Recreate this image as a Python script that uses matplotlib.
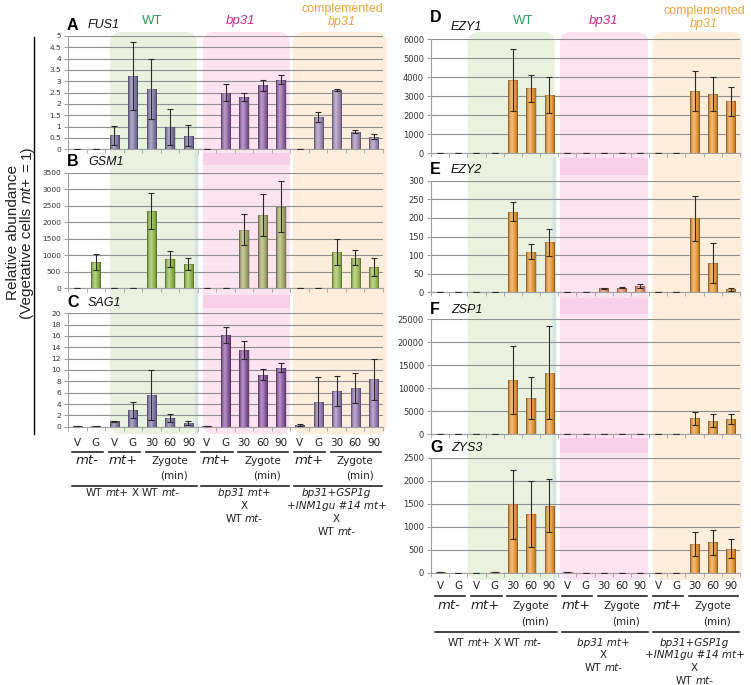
"""Relative abundance of gamete / zygote transcripts in WT, bp31 and complemented bp31."""
import numpy as np
import matplotlib
matplotlib.use('Agg')
import matplotlib.pyplot as plt
import matplotlib.colors as mcolors
from matplotlib.patches import FancyBboxPatch, Rectangle
from matplotlib.ticker import FuncFormatter

# data (17 samples per panel)
tick_labels = ['V', 'G', 'V', 'G', '30', '60', '90',
               'V', 'G', '30', '60', '90',
               'V', 'G', '30', '60', '90']

fus1 = [0, 0, 0.63, 3.25, 2.65, 1.0, 0.6, 0.03, 2.5, 2.29, 2.82, 3.06, 0.03, 1.44, 2.62, 0.78, 0.56]
fus1_err = [0, 0, 0.42, 1.5, 1.33, 0.8, 0.47, 0, 0.36, 0.18, 0.25, 0.2, 0, 0.22, 0.04, 0.05, 0.1]

gsm1 = [20, 790, 1, 5, 2340, 890, 730, 8, 0, 1770, 2230, 2470, 0, 0, 1090, 930, 640]
gsm1_err = [0, 250, 0, 0, 550, 240, 180, 0, 0, 470, 640, 780, 0, 0, 390, 230, 270]

sag1 = [0.1, 0.15, 0.95, 2.9, 5.6, 1.5, 0.7, 0.1, 16.2, 13.6, 9.2, 10.4, 0.3, 4.3, 6.3, 6.8, 8.35]
sag1_err = [0, 0, 0.1, 1.4, 4.4, 0.7, 0.35, 0, 1.4, 1.6, 1.0, 0.8, 0.1, 4.5, 2.6, 2.7, 3.65]

ezy1 = [5, 15, 5, 15, 3860, 3420, 3070, 10, 20, 15, 15, 10, 5, 10, 3300, 3100, 2740]
ezy1_err = [0, 0, 0, 0, 1650, 720, 950, 0, 0, 0, 0, 0, 0, 0, 1050, 900, 770]

ezy2 = [0.5, 0.5, 1, 1, 217, 109, 134, 0.5, 2, 10.7, 12.5, 17, 0.5, 0.5, 199, 78, 8]
ezy2_err = [0, 0, 0, 0, 25, 20, 37, 0, 0, 1.5, 2, 4.5, 0, 0, 61, 54, 4]

zsp1 = [100, 20, 20, 100, 11800, 7800, 13400, 30, 20, 20, 50, 20, 0, 0, 3400, 2900, 3200]
zsp1_err = [0, 0, 0, 0, 7400, 4600, 10200, 0, 0, 0, 0, 0, 0, 0, 1500, 1400, 1100]

zys3 = [5, 0, 0, 5, 1490, 1280, 1460, 5, 0, 0, 0, 0, 0, 0, 620, 660, 520]
zys3_err = [0, 0, 0, 0, 750, 720, 570, 0, 0, 0, 0, 0, 0, 0, 260, 270, 210]

# group colours: (WT, bp31, complemented)
purple_A = ['#7f76a6', '#9060a6', '#9c88b2']
green_B = ['#8cb845', '#a6aa6a', '#9cbd52']
purple_C = ['#7d73a5', '#8a52a0', '#9378b0']
orange = ['#ea952f', '#e98b63', '#ea952f']

W, H = 751, 685
fig = plt.figure(figsize=(W / 100, H / 100), dpi=100)
renderer = fig.canvas.get_renderer()


def fx(x):
    return x / W


def fy(y):
    return 1 - y / H


def add_ax(l, t, r, b):
    return fig.add_axes([fx(l), fy(b), (r - l) / W, (b - t) / H])


# background layer in pixel coordinates
bg = fig.add_axes([0, 0, 1, 1], zorder=0)
bg.set_xlim(0, W)
bg.set_ylim(H, 0)
bg.axis('off')

cols = {'left': (68, 383), 'right': (431, 740)}


def ux(col, u):
    """category boundary units -> pixel x"""
    l, r = cols[col]
    return l + u * (r - l) / 17


def shade(col, u0, u1, y0, y1, color):
    x0, x1 = ux(col, u0), ux(col, u1)
    bg.add_patch(FancyBboxPatch((x0, y0), x1 - x0, y1 - y0,
                                boxstyle='round,pad=0,rounding_size=11',
                                fc=color, ec='none'))


green_bg, pink_bg, orange_bg = '#eaf1de', '#fbe3f0', '#fdeedb'
pink_strip = '#f7d0e7'

shade('left', 2.27, 6.96, 32, 434, green_bg)
shade('left', 7.27, 11.98, 32, 434, pink_bg)
shade('left', 12.14, 17.2, 32, 434, orange_bg)
shade('right', 2.02, 6.8, 32, 580, green_bg)
shade('right', 7.1, 11.95, 32, 580, pink_bg)
shade('right', 12.2, 17.1, 32, 580, orange_bg)

for col, u0, u1, strips in [('left', 7.27, 11.98, [(153, 165), (295, 308)]),
                            ('right', 7.1, 11.95, [(158, 175), (298, 314), (438, 453)])]:
    for y0, y1 in strips:
        bg.add_patch(Rectangle((ux(col, u0), y0), ux(col, u1) - ux(col, u0), y1 - y0,
                               fc=pink_strip, ec='none'))
bg.plot([ux('left', 6.96) - 1] * 2, [152, 432], color='#d3e6e1', lw=2.5)
bg.plot([ux('right', 6.8) - 1] * 2, [158, 578], color='#d3e6e1', lw=2.5)


def rich(x, y, words, size=7.5, family='DejaVu Sans', rot=0, color='#222222'):
    """draw a line of words (text, italic) centred at pixel (x, y)"""
    objs = []
    for s, it in words:
        t = fig.text(0, 0, s, fontsize=size, family=family,
                     style='italic' if it else 'normal', color=color,
                     rotation=rot, rotation_mode='anchor', ha='left', va='center')
        objs.append(t)
    sp = size * 100 / 72 * 0.3
    widths = []
    for t in objs:
        bb = t.get_window_extent(renderer)
        widths.append(bb.height if rot else bb.width)
    total = sum(widths) + sp * (len(objs) - 1)
    pos = -total / 2
    for t, w in zip(objs, widths):
        if rot:
            t.set_position((fx(x), fy(y - pos)))
        else:
            t.set_position((fx(x + pos), fy(y)))
        pos += w + sp


def gradient_bars(ax, vals, errs, colors):
    x = np.arange(len(vals))
    cs = [colors[0]] * 7 + [colors[1]] * 5 + [colors[2]] * 5
    bars = ax.bar(x, vals, width=0.5, color=cs, zorder=2)
    t = np.linspace(-1, 1, 40)
    light = 0.4 * np.clip(1 - np.abs(t + 0.25) / 0.9, 0, 1) ** 1.3
    dark = 0.3 * np.abs(t) ** 2.5
    for b, c in zip(bars, cs):
        rgb = np.array(mcolors.to_rgb(c))
        img = rgb[None, :] * (1 - light - dark)[:, None] + light[:, None]
        img = np.clip(img, 0, 1)[None, :, :]
        im = ax.imshow(img, extent=(b.get_x(), b.get_x() + b.get_width(), 0, b.get_height()),
                       aspect='auto', zorder=2.1, interpolation='bilinear')
        im.set_clip_path(b)
    ax.bar(x, vals, width=0.5, fill=False, edgecolor='#00000033', lw=0.5, zorder=2.2)
    ax.errorbar(x, vals, yerr=errs, fmt='none', ecolor='#2a2a2a', elinewidth=0.8,
                capsize=2.2, capthick=0.8, zorder=3)


def setup(ax, ymax, ystep, labsize, show_ticks=False, pad=7):
    ax.set_facecolor('none')
    ax.set_xlim(-0.5, 16.5)
    ax.set_ylim(0, ymax)
    ax.set_yticks(np.arange(0, ymax + ystep / 2, ystep))
    ax.yaxis.set_major_formatter(FuncFormatter(lambda v, p: f'{v:g}'))
    ax.yaxis.grid(True, color='#8f8f8f', lw=0.8)
    ax.set_axisbelow(True)
    for s in ['top', 'right']:
        ax.spines[s].set_visible(False)
    for s in ['left', 'bottom']:
        ax.spines[s].set_color('#a0a0a0')
        ax.spines[s].set_linewidth(0.8)
    ax.tick_params(axis='y', labelsize=labsize, length=3, color='#a0a0a0',
                   labelcolor='#333333', pad=2)
    ax.set_xticks(np.arange(-0.5, 17, 1), minor=True)
    ax.tick_params(axis='x', which='minor', length=3, color='#a0a0a0')
    if show_ticks:
        ax.set_xticks(range(17), tick_labels)
        ax.tick_params(axis='x', which='major', length=0, labelsize=7.5,
                       labelcolor='#222222', pad=pad)
    else:
        ax.set_xticks([])


panels = [
    ('left', (36, 149.3), fus1, fus1_err, purple_A, 5, 0.5, 'A', 'FUS1', 26, 25),
    ('left', (172.7, 288.3), gsm1, gsm1_err, green_B, 3500, 500, 'B', 'GSM1', 162, 162),
    ('left', (313.3, 426.7), sag1, sag1_err, purple_C, 20, 2, 'C', 'SAG1', 303, 303),
    ('right', (39.3, 153.3), ezy1, ezy1_err, orange, 6000, 1000, 'D', 'EZY1', 18, 27),
    ('right', (180.7, 292.3), ezy2, ezy2_err, orange, 300, 50, 'E', 'EZY2', 170, 170),
    ('right', (319.3, 434), zsp1, zsp1_err, orange, 25000, 5000, 'F', 'ZSP1', 310, 310),
    ('right', (457.7, 572.7), zys3, zys3_err, orange, 2500, 500, 'G', 'ZYS3', 448, 448),
]

for col, (top, bot), vals, errs, colors, ymax, ystep, letter, gene, ly, gy in panels:
    l, r = cols[col]
    ax = add_ax(l, top, r, bot)
    ax.set_zorder(1)
    gradient_bars(ax, vals, errs, colors)
    last = letter in ('C', 'G')
    setup(ax, ymax, ystep, 5.4 if col == 'left' else 6.0, show_ticks=last,
          pad=8 if col == 'left' else 6)
    fig.text(fx(l - 1), fy(ly), letter, fontsize=11.5, fontweight='bold',
             family='Liberation Sans', va='center', ha='left')
    fig.text(fx(l + 20), fy(gy), gene, fontsize=9, style='italic',
             family='Liberation Sans', va='center', ha='left', color='#111111')

# group titles
title_green, title_pink, title_orange = '#2f9e5b', '#cc2a8c', '#f0a43a'
for col, wx, px_, cx, cy1, cy2 in [('left', 152, 241, 342, 9, 22), ('right', 523, 604, 704, 11, 24)]:
    fig.text(fx(wx), fy(21), 'WT', color=title_green, fontsize=9.5, family='Liberation Sans',
             ha='center', va='center')
    fig.text(fx(px_), fy(21), 'bp31', color=title_pink, fontsize=9.5, style='italic',
             family='Liberation Sans', ha='center', va='center')
    fig.text(fx(cx), fy(cy1), 'complemented', color=title_orange, fontsize=9,
             family='Liberation Sans', ha='center', va='center')
    fig.text(fx(cx), fy(cy2), 'bp31', color=title_orange, fontsize=9, style='italic',
             family='Liberation Sans', ha='center', va='center')

# y label with vertical rule
bg.plot([34, 34], [37, 434], color='black', lw=1)
rich(13, 232, [('Relative abundance', False)], size=11, family='Liberation Sans', rot=90)
rich(27, 232, [('(Vegetative cells', False), ('mt+', True), ('=', False), ('1)', False)],
     size=11, family='Liberation Sans', rot=90)

# category annotations under panels C and G
short_groups = [(0, 2, 'mt-'), (2, 4, 'mt+'), (4, 7, None), (7, 9, 'mt+'), (9, 12, None),
                (12, 14, 'mt+'), (14, 17, None)]
long_groups = [(0, 7), (7, 12), (12, 17)]
crosses = [
    [[('WT', False), ('mt+', True), ('X', False), ('WT', False), ('mt-', True)]],
    [[('bp31 mt+', True)], [('X', False)], [('WT', False), ('mt-', True)]],
    [[('bp31+GSP1g', True)], [('+INM1gu #14 mt+', True)], [('X', False)],
     [('WT', False), ('mt-', True)]],
]

for col, y_short, y_mt, y_min, y_long, y_txt in [('left', 451.7, 461, 476, 486, 493.5),
                                                  ('right', 595.7, 605.7, 621, 631.7, 642.7)]:
    for u0, u1, lab in short_groups:
        bg.plot([ux(col, u0 + 0.2), ux(col, u1 - 0.12)], [y_short] * 2, color='#111111', lw=1.1)
        xc = ux(col, (u0 + u1) / 2)
        if lab:
            rich(xc, y_mt, [(lab, True)], size=9.5)
        else:
            t = fig.text(fx(xc), fy(y_mt), 'Zygote', fontsize=7.5, ha='center', va='center',
                         color='#222222')
            right = t.get_window_extent(renderer).x1
            fig.text(right / W, fy(y_min), '(min)', fontsize=7.5, ha='right', va='center',
                     color='#222222')
    for (u0, u1), lines in zip(long_groups, crosses):
        bg.plot([ux(col, u0 + 0.2), ux(col, u1 - 0.05)], [y_long] * 2, color='#111111', lw=1.1)
        xc = ux(col, (u0 + u1) / 2)
        for k, words in enumerate(lines):
            rich(xc, y_txt + k * 12.8, words, size=7.5)

fig.savefig('out.png', dpi=100)
